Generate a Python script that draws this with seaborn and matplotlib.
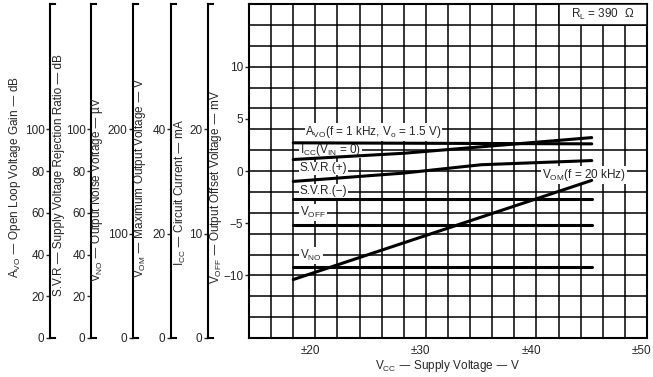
import numpy as np
import pandas as pd
import matplotlib
matplotlib.use("Agg")
import matplotlib.pyplot as plt
from matplotlib.patches import Rectangle
from matplotlib.transforms import ScaledTranslation
import seaborn as sns

# supply voltage (±V) where each curve is read
vcc_ends = [18, 45]
icc_vcc = [18, 28, 45]
svr_pos_vcc = [18, 28, 35, 45]

# curve values, each in its own unit
avo_db = [93.5, 93.0]
icc_ma = [17.1, 17.7, 19.2]
svr_pos_db = [75.0, 79.0, 83.0, 85.0]
svr_neg_db = [66.5, 66.5]
voff_mv = [-5.2, -5.2]
vno_uv = [68, 68]
vom_v = [11.2, 30.2]

# axis ticks
db_ticks = [0, 20, 40, 60, 80, 100]
vno_ticks = [0, 100, 200]
vom_ticks = [0, 20, 40]
icc_ticks = [0, 10, 20]
voff_ticks = [-10, -5, 0, 5, 10]
vcc_ticks = [20, 30, 40, 50]
vcc_labels = ["±20", "±30", "±40", "±50"]

sns.set_style("white")
plt.rcParams["font.family"] = ["Liberation Sans", "DejaVu Sans"]
FS = 8.5

W, H = 653, 377
fig = plt.figure(figsize=(W / 100, H / 100), dpi=100)
bot, hgt = 39 / H, 334 / H

ax = fig.add_axes([249 / W, bot, 398 / W, hgt])
ax.set_xlim(14, 50)
ax.set_ylim(-16, 16)
ax.set_xticks(vcc_ticks, vcc_labels)
ax.set_xticks(np.arange(16, 50, 2), minor=True)
ax.set_yticks(voff_ticks, [str(t).replace("-", "−") for t in voff_ticks])
ax.set_yticks(np.arange(-14, 16, 2), minor=True)
ax.xaxis.remove_overlapping_locs = False
ax.yaxis.remove_overlapping_locs = False
ax.grid(which="major", visible=False)
ax.grid(which="minor", color="black", lw=1.1)
ax.tick_params(which="minor", length=0)
ax.tick_params(axis="x", which="major", length=0, pad=5, labelsize=FS)
ax.tick_params(axis="y", which="major", length=3, width=1, pad=1, labelsize=FS)
# the printed x labels sit a little left of their grid line
shift = ScaledTranslation(-5 / 100, 0, fig.dpi_scale_trans)
for lab in ax.get_xticklabels():
    lab.set_transform(lab.get_transform() + shift)
for s in ax.spines.values():
    s.set_color("black")
    s.set_linewidth(1.5)
ax.set_xlabel(r"V$_\mathregular{CC}$ — Supply Voltage — V", fontsize=FS, labelpad=1)
ax.set_ylabel(r"V$_\mathregular{OFF}$ — Output Offset Voltage — mV", fontsize=FS)
ax.yaxis.set_label_coords(216.5 / W, 1 - 187 / H, transform=fig.transFigure)
ax.yaxis.label.set_va("center")

# separate scales on the left
scales = [
    (50, 160, db_ticks, r"A$_\mathregular{VO}$ — Open Loop Voltage Gain — dB", 15, 177),
    (91, 160, db_ticks, "S.V.R — Supply Voltage Rejection Ratio — dB", 59, 175),
    (133, 320, vno_ticks, r"V$_\mathregular{NO}$ — Output Noise Voltage — µV", 97, 189),
    (171, 64, vom_ticks, r"V$_\mathregular{OM}$ — Maximum Output Voltage — V", 140, 178),
    (208, 32, icc_ticks, r"I$_\mathregular{CC}$ — Circuit Current — mA", 180, 192),
]
for sx, top, ticks, label, lx, ly in scales:
    sa = fig.add_axes([sx / W, bot, 5 / W, hgt])
    sa.set_facecolor("none")
    sa.set_xticks([])
    sa.set_ylim(0, top)
    sa.set_yticks(ticks)
    sa.spines["right"].set_visible(False)
    for k in ["left", "top", "bottom"]:
        sa.spines[k].set_linewidth(1.5)
        sa.spines[k].set_color("black")
    sa.tick_params(axis="y", direction="out", length=3, width=1, pad=1, labelsize=FS, left=True)
    sa.set_ylabel(label, fontsize=FS)
    sa.yaxis.set_label_coords(lx / W, 1 - ly / H, transform=fig.transFigure)
    sa.yaxis.label.set_va("center")


def twin(top):
    t = ax.twinx()
    t.set_ylim(0, top)
    t.axis("off")
    return t


curves = [
    (twin(160), [("Avo", vcc_ends, avo_db), ("SVR+", svr_pos_vcc, svr_pos_db),
                 ("SVR-", vcc_ends, svr_neg_db)]),
    (twin(32), [("ICC", icc_vcc, icc_ma)]),
    (twin(320), [("VNO", vcc_ends, vno_uv)]),
    (twin(64), [("VOM", vcc_ends, vom_v)]),
    (ax, [("VOFF", vcc_ends, voff_mv)]),
]
for target, items in curves:
    df = pd.concat([pd.DataFrame({"vcc": x, "val": y, "curve": n}) for n, x, y in items])
    sns.lineplot(data=df, x="vcc", y="val", hue="curve", palette=["black"] * len(items),
                 legend=False, lw=2.2, ax=target, estimator=None, sort=False)
    target.set_xlim(14, 50)

box = dict(fc="white", ec="none", pad=0.6)
notes = [
    (19.1, 3.74, r"A$_\mathregular{VO}$(f = 1 kHz, V$_\mathregular{o}$ = 1.5 V)"),
    (18.6, 2.05, r"I$_\mathregular{CC}$(V$_\mathregular{IN}$ = 0)"),
    (18.6, 0.25, "S.V.R.(+)"),
    (18.6, -1.9, "S.V.R.(−)"),
    (18.6, -4.0, r"V$_\mathregular{OFF}$"),
    (18.6, -8.1, r"V$_\mathregular{NO}$"),
    (40.5, -0.38, r"V$_\mathregular{OM}$(f = 20 kHz)"),
]
for x, y, s in notes:
    ax.text(x, y, s, fontsize=FS, ha="left", va="center", bbox=box, zorder=5)

ax.add_patch(Rectangle((42, 14), 8, 2, fc="white", ec="black", lw=1.1, zorder=4))
ax.text(46, 15, r"R$_\mathregular{L}$ = 390  Ω", fontsize=FS, ha="center", va="center", zorder=5)

fig.savefig("out.png", dpi=100)
